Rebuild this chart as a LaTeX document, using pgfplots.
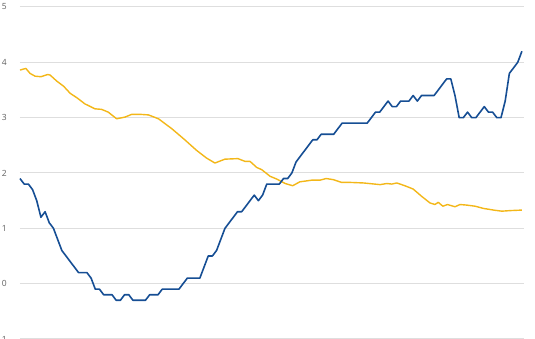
\documentclass[border=0pt]{standalone}
\usepackage{pgfplots}
\pgfplotsset{compat=1.18}
\usepackage{fontspec}
\setmainfont{Open Sans}
\definecolor{cblue}{RGB}{22,78,148}
\definecolor{cgold}{RGB}{243,183,25}
\definecolor{cgrid}{RGB}{222,222,222}
\definecolor{ctext}{RGB}{95,95,95}
\begin{document}
\begin{tikzpicture}
\begin{axis}[
  at={(0,0)}, anchor=south west,
  scale only axis, width=504pt, height=332pt,
  xmin=0, xmax=120.5, ymin=-1, ymax=5,
  ytick={-1,0,1,2,3,4,5},
  xtick=\empty,
  axis line style={draw=none},
  major tick length=0pt,
  ymajorgrids, grid style={cgrid, line width=1pt},
  /pgf/number format/assume math mode=true,
  yticklabel style={font=\fontsize{8.5}{10}\selectfont, text=ctext, anchor=east, inner sep=0pt, xshift=-13pt},
  clip=false,
]
\addplot[cgold, line width=1.4pt, line join=round] coordinates {
(0,3.86) (1.4,3.89) (2.4,3.80) (3.6,3.75) (5.0,3.74) (6.6,3.78) (7.2,3.77) (8.8,3.66)
(10.4,3.57) (12.0,3.44) (13.6,3.36) (15.5,3.25) (17.9,3.16) (19.5,3.15) (21.1,3.10)
(23.1,2.98) (25.1,3.01) (26.7,3.06) (28.7,3.06) (30.7,3.05) (33.1,2.98) (36.3,2.80)
(39.4,2.60) (42.2,2.41) (44.6,2.27) (46.6,2.18) (49.0,2.25) (52.1,2.26) (53.8,2.21)
(55.0,2.21) (56.6,2.10) (57.8,2.06) (59.8,1.94) (61.4,1.89) (63.4,1.81) (65.2,1.77)
(66.9,1.84) (69.7,1.87) (71.7,1.87) (73.2,1.90) (74.9,1.88) (76.9,1.83) (78.9,1.83)
(82.1,1.82) (86.1,1.79) (87.7,1.81) (88.9,1.80) (90.1,1.82) (92.0,1.77) (94.0,1.71)
(96.0,1.58) (98.0,1.46) (99.2,1.43) (100.0,1.47) (101.1,1.40) (102.2,1.43) (104.0,1.39)
(105.2,1.43) (106.8,1.42) (108.8,1.40) (110.8,1.36) (113.2,1.33) (115.2,1.31) (117.1,1.32)
(120,1.33)
};
\addplot[cblue, line width=1.6pt, line join=round] coordinates {
(0,1.9) (1,1.8) (2,1.8) (3,1.7) (4,1.5) (5,1.2) (6,1.3) (7,1.1) (8,1.0) (9,0.8)
(10,0.6) (11,0.5) (12,0.4) (13,0.3) (14,0.2) (15,0.2) (16,0.2) (17,0.1) (18,-0.1) (19,-0.1)
(20,-0.2) (21,-0.2) (22,-0.2) (23,-0.3) (24,-0.3) (25,-0.2) (26,-0.2) (27,-0.3) (28,-0.3) (29,-0.3)
(30,-0.3) (31,-0.2) (32,-0.2) (33,-0.2) (34,-0.1) (35,-0.1) (36,-0.1) (37,-0.1) (38,-0.1) (39,0.0)
(40,0.1) (41,0.1) (42,0.1) (43,0.1) (44,0.3) (45,0.5) (46,0.5) (47,0.6) (48,0.8) (49,1.0)
(50,1.1) (51,1.2) (52,1.3) (53,1.3) (54,1.4) (55,1.5) (56,1.6) (57,1.5) (58,1.6) (59,1.8)
(60,1.8) (61,1.8) (62,1.8) (63,1.9) (64,1.9) (65,2.0) (66,2.2) (67,2.3) (68,2.4) (69,2.5)
(70,2.6) (71,2.6) (72,2.7) (73,2.7) (74,2.7) (75,2.7) (76,2.8) (77,2.9) (78,2.9) (79,2.9)
(80,2.9) (81,2.9) (82,2.9) (83,2.9) (84,3.0) (85,3.1) (86,3.1) (87,3.2) (88,3.3) (89,3.2)
(90,3.2) (91,3.3) (92,3.3) (93,3.3) (94,3.4) (95,3.3) (96,3.4) (97,3.4) (98,3.4) (99,3.4)
(100,3.5) (101,3.6) (102,3.7) (103,3.7) (104,3.4) (105,3.0) (106,3.0) (107,3.1) (108,3.0) (109,3.0)
(110,3.1) (111,3.2) (112,3.1) (113,3.1) (114,3.0) (115,3.0) (116,3.3) (117,3.8) (118,3.9) (119,4.0)
(120,4.2)
};
\end{axis}
\pgfresetboundingbox
\path[use as bounding box] (-20pt,0pt) rectangle (515pt,339pt);
\end{tikzpicture}
\end{document}
